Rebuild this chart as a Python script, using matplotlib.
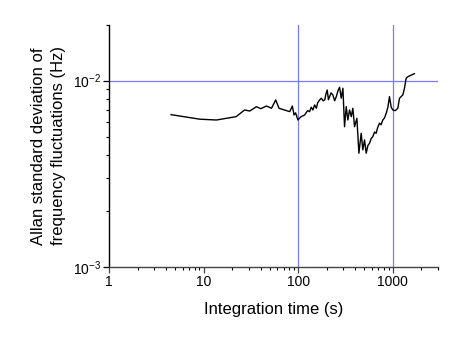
import matplotlib
matplotlib.use("Agg")
import matplotlib.pyplot as plt
from matplotlib.ticker import LogLocator, NullFormatter, FixedLocator, FixedFormatter

plt.rcParams['font.family'] = ['Liberation Sans', 'DejaVu Sans']
plt.rcParams['mathtext.fontset'] = 'custom'
plt.rcParams['mathtext.rm'] = 'Liberation Sans'

tau = [4.5, 9.1, 13.6, 22, 27, 30.6, 36, 40, 46, 52, 57.6, 62.4, 81, 86.4, 90, 93.5, 99,
       107, 116.6, 125, 131.6, 137, 142.6, 148.6, 155, 160, 168, 175, 183, 190, 196, 202,
       208, 214, 222, 232, 242, 252, 262, 273, 284, 296, 308, 321, 334, 348, 363, 377,
       393, 416, 437, 462, 481, 501, 522, 545, 566, 590, 613, 640, 665, 690, 721, 750,
       782, 815, 849, 885, 920, 960, 998, 1060, 1127, 1175, 1274, 1325, 1381, 1440,
       1497, 1560, 1620, 1690]
adev = [6.57e-3, 6.21e-3, 6.15e-3, 6.41e-3, 6.96e-3, 6.87e-3, 7.25e-3, 7.07e-3, 7.31e-3,
        7.11e-3, 7.88e-3, 7.11e-3, 6.82e-3, 7.31e-3, 6.54e-3, 6.72e-3, 6.15e-3,
        6.41e-3, 6.54e-3, 6.9e-3, 6.82e-3, 7.2e-3, 6.96e-3, 7.41e-3, 7.11e-3, 7.6e-3,
        7.88e-3, 8.05e-3, 7.8e-3, 7.88e-3, 8.5e-3, 8.91e-3, 7.9e-3, 8.21e-3, 8.6e-3,
        8.38e-3, 7.8e-3, 8.21e-3, 8.8e-3, 9.22e-3, 8.05e-3, 9.1e-3, 5.66e-3, 7.25e-3,
        6.15e-3, 6.96e-3, 6.41e-3, 7.11e-3, 5.66e-3, 6.28e-3, 4.08e-3, 5.22e-3, 4.25e-3,
        4.81e-3, 4.08e-3, 4.5e-3, 4.61e-3, 4.9e-3, 5.0e-3, 5.3e-3, 5.22e-3, 5.6e-3,
        5.91e-3, 5.8e-3, 6.15e-3, 6.3e-3, 6.68e-3, 7.2e-3, 8.21e-3, 7.2e-3, 6.96e-3,
        6.9e-3, 7.11e-3, 8.05e-3, 8.38e-3, 9.1e-3, 1.03e-2, 1.05e-2, 1.06e-2, 1.07e-2,
        1.08e-2, 1.09e-2]

x_ticks = [1, 10, 100, 1000]
x_ticklabels = ["1", "10", "100", "1000"]
y_ticks = [1e-3, 1e-2]
y_ticklabels = [r"$10^{-3}$", r"$10^{-2}$"]
ref_x = [100, 1000]
ref_y = [1e-2]

fig = plt.figure(figsize=(4.63, 3.41), dpi=100)
ax = fig.add_axes([0.236, 0.217, 0.71, 0.711])

grid_color = '#7878ff'
for xv in ref_x:
    ax.axvline(xv, color=grid_color, lw=0.9, zorder=1)
for yv in ref_y:
    ax.axhline(yv, color=grid_color, lw=0.9, zorder=1)

ax.plot(tau, adev, color='black', lw=1.0, zorder=3)

ax.set_xscale('log')
ax.set_yscale('log')
ax.set_xlim(1, 3000)
ax.set_ylim(1e-3, 2e-2)

ax.xaxis.set_major_locator(FixedLocator(x_ticks))
ax.xaxis.set_major_formatter(FixedFormatter(x_ticklabels))
ax.xaxis.set_minor_locator(LogLocator(base=10, subs=range(2, 10)))
ax.xaxis.set_minor_formatter(NullFormatter())
ax.yaxis.set_major_locator(FixedLocator(y_ticks))
ax.yaxis.set_major_formatter(FixedFormatter(y_ticklabels))
ax.yaxis.set_minor_locator(LogLocator(base=10, subs=range(2, 10)))
ax.yaxis.set_minor_formatter(NullFormatter())

for s in ['top', 'right']:
    ax.spines[s].set_visible(False)
ax.spines['left'].set_color('black')
ax.spines['left'].set_linewidth(1.0)
ax.spines['bottom'].set_color('#444444')
ax.spines['bottom'].set_linewidth(1.0)

ax.tick_params(which='major', direction='out', length=4, width=0.9, labelsize=10, pad=2)
ax.tick_params(which='minor', direction='out', length=2, width=0.8)
ax.tick_params(axis='x', colors='#444444', labelcolor='black')

ax.set_xlabel("Integration time (s)", fontsize=12, labelpad=9)
ax.set_ylabel("Allan standard deviation of\nfrequency fluctuations (Hz)", fontsize=12,
              labelpad=5, linespacing=1.4)

fig.savefig("out.png", dpi=100)
